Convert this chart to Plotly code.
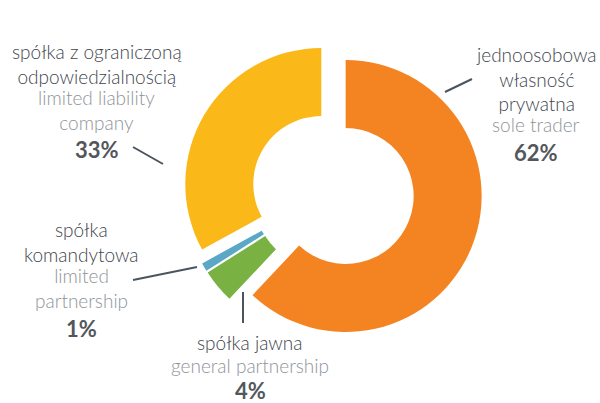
import plotly.graph_objects as go

# Data
labels_pl = ["jednoosobowa<br>własność<br>prywatna", "spółka jawna", "spółka<br>komandytowa", "spółka z ograniczoną<br>odpowiedzialnością"]
labels_en = ["sole trader", "general partnership", "limited<br>partnership", "limited liability<br>company"]
values = [62, 4, 1, 33]
pct_labels = ["62%", "4%", "1%", "33%"]
colors = ["#F48422", "#79B242", "#5AA8C5", "#FBB819"]

W, H = 600, 403

def px(x):
    return x / W

def py(y):
    return 1 - y / H

fig = go.Figure()
R = 136
pull = 0.1
cx, cy = 333, 191
size = 2 * R * (1 + pull)
fig.add_trace(go.Pie(
    values=values,
    labels=[l.replace("<br>", " ") for l in labels_pl],
    marker=dict(colors=colors, line=dict(width=0)),
    hole=0.5,
    pull=[pull] * len(values),
    sort=False,
    direction="clockwise",
    rotation=0,
    textinfo="none",
    hoverinfo="skip",
    showlegend=False,
    domain=dict(x=[px(cx - size / 2), px(cx + size / 2)],
                y=[py(cy + size / 2), py(cy - size / 2)]),
))

dark = "#40454C"
light = "#8F9499"
pctc = "#53575C"
font_fam = "Lato, 'Open Sans', sans-serif"

# label layout: (x center, y of pl block, y of en block, y of pct)
label_pos = [
    (536, 79, 125, 153),
    (250, 342, 365, 390),
    (81, 242.5, 288, 328),
    (97, 64, 110, 150),
]
for i, (x, ypl, yen, ypc) in enumerate(label_pos):
    fig.add_annotation(x=px(x), y=py(ypl), xref="paper", yref="paper", text=labels_pl[i],
                       showarrow=False, xanchor="center", yanchor="middle", align="center",
                       font=dict(family=font_fam, size=19, color=dark, weight=300))
    fig.add_annotation(x=px(x), y=py(yen), xref="paper", yref="paper", text=labels_en[i],
                       showarrow=False, xanchor="center", yanchor="middle", align="center",
                       font=dict(family=font_fam, size=19, color=light, weight=300))
    fig.add_annotation(x=px(x), y=py(ypc), xref="paper", yref="paper", text="<b>" + pct_labels[i] + "</b>",
                       showarrow=False, xanchor="center", yanchor="middle", align="center",
                       font=dict(family=font_fam, size=22, color=pctc))

leaders = [
    ((445, 92), (472, 79)),
    ((243, 292), (243, 323)),
    ((133, 280), (197, 267)),
    ((133, 147), (163, 164)),
]
for (x0, y0), (x1, y1) in leaders:
    fig.add_shape(type="line", xref="paper", yref="paper",
                  x0=px(x0), y0=py(y0), x1=px(x1), y1=py(y1),
                  line=dict(color="#4A5560", width=2))

fig.update_layout(
    width=W, height=H,
    margin=dict(l=0, r=0, t=0, b=0),
    paper_bgcolor="white", plot_bgcolor="white",
    showlegend=False,
)
fig.write_html("out.html", config={"displayModeBar": False},
               post_script="document.body.style.margin='0';document.body.style.overflow='hidden';")
